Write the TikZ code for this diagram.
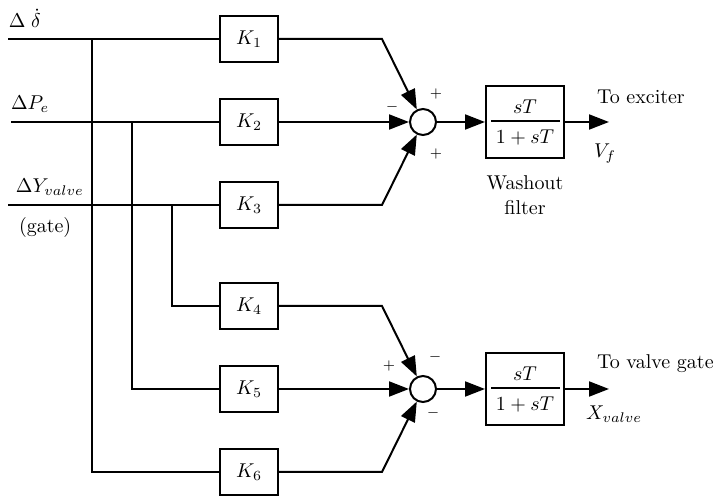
\documentclass[tikz,border=0pt]{standalone}
\usetikzlibrary{arrows.meta}
\begin{document}
\begin{tikzpicture}[x=0.5pt,y=-0.5pt,
 line width=1pt,
 kbox/.style={draw, minimum width=29pt, minimum height=23pt, inner sep=0pt},
 fbox/.style={draw, minimum width=39pt, minimum height=36pt, inner sep=0pt},
 sumc/.style={draw, circle, minimum size=13pt, inner sep=0pt},
 arr/.style={-{Triangle[length=10pt,width=7.5pt]}},
 sgn/.style={font=\scriptsize, inner sep=0pt},
 lbl/.style={inner sep=0pt}]
\useasboundingbox (0,0) rectangle (714,496);

% gain blocks
\node[kbox] (K1) at (249,39) {$K_1$};
\node[kbox] (K2) at (249,122) {$K_2$};
\node[kbox] (K3) at (249,205) {$K_3$};
\node[kbox] (K4) at (249,306) {$K_4$};
\node[kbox] (K5) at (249,389) {$K_5$};
\node[kbox] (K6) at (249,472) {$K_6$};

% summing junctions
\node[sumc] (S1) at (423,122) {};
\node[sumc] (S2) at (423,389) {};

% washout filters
\node[fbox] (F1) at (525,122) {};
\node[fbox] (F2) at (525,389) {};
\node[lbl] (n1) at (525,107) {$sT$};
\node[lbl] (d1) at (525,138) {$1+sT$};
\node[lbl] (n2) at (525,374) {$sT$};
\node[lbl] (d2) at (525,405) {$1+sT$};
\draw[line width=0.9pt] (491,121) -- (560,121);
\draw[line width=0.9pt] (491,388) -- (560,388);

% input coordinates
\coordinate (i1) at (8,39);
\coordinate (i2) at (11,122);
\coordinate (i3) at (8,205);
\coordinate (j1) at (92,39);
\coordinate (j2) at (132,122);
\coordinate (j3) at (172,205);
\coordinate (b1) at (382,39);
\coordinate (b3) at (382,205);
\coordinate (b4) at (382,306);
\coordinate (b6) at (382,472);
\coordinate (o1) at (609,122);
\coordinate (o2) at (609,389);

% input lines
\draw (i1) -- (K1.west);
\draw (i2) -- (K2.west);
\draw (i3) -- (K3.west);
\draw (j1) |- (K6.west);
\draw (j2) |- (K5.west);
\draw (j3) |- (K4.west);

% to upper sum
\draw[arr] (K1.east) -- (b1) -- (S1);
\draw[arr] (K2.east) -- (S1);
\draw[arr] (K3.east) -- (b3) -- (S1);
% to lower sum
\draw[arr] (K4.east) -- (b4) -- (S2);
\draw[arr] (K5.east) -- (S2);
\draw[arr] (K6.east) -- (b6) -- (S2);

% sums to filters and outputs
\draw[arr] (S1) -- (F1);
\draw[arr] (S2) -- (F2);
\draw[arr] (F1) -- (o1);
\draw[arr] (F2) -- (o2);

% signs
\node[sgn] (p1) at (436,94) {$+$};
\node[sgn] (m1) at (392,107) {$-$};
\node[sgn] (p2) at (436,154) {$+$};
\node[sgn] (m2) at (435,357) {$-$};
\node[sgn] (p3) at (389,366) {$+$};
\node[sgn] (m3) at (433,413) {$-$};

% labels
\node[lbl, anchor=base west] (l1) at (8,28) {$\Delta\;\dot{\delta}$};
\node[lbl, anchor=base west] (l2) at (10,110) {$\Delta P_e$};
\node[lbl, anchor=base west] (l3) at (15,193) {$\Delta Y_{valve}$};
\node[lbl, anchor=base west] (l4) at (18,233) {(gate)};
\node[lbl, anchor=base west] (t1) at (596,104) {To exciter};
\node[lbl, anchor=base west] (v1) at (593,158) {$V_f$};
\node[lbl, anchor=base west] (t2) at (596,369) {To valve gate};
\node[lbl, anchor=base west] (v2) at (585,420) {$X_{valve}$};
\node[lbl, anchor=base] (w1) at (525,190) {Washout};
\node[lbl, anchor=base] (w2) at (525,215) {filter};
\end{tikzpicture}
\end{document}
